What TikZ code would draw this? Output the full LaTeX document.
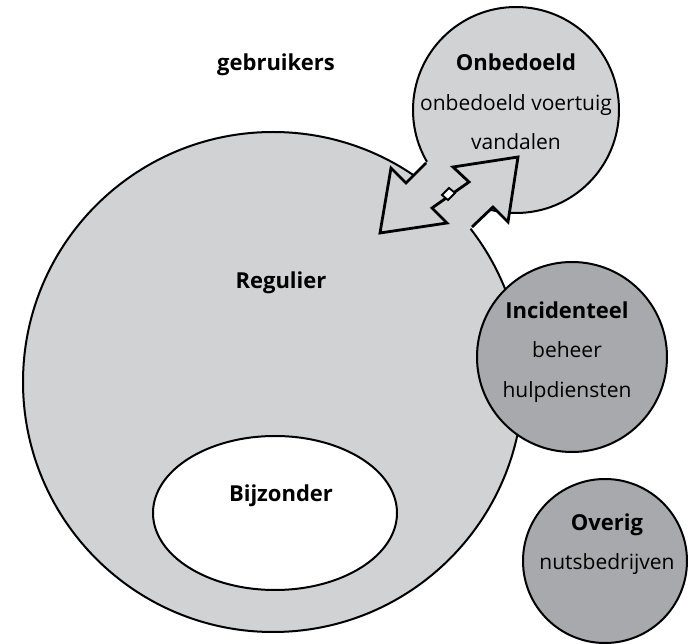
\documentclass[tikz,border=0pt]{standalone}
\usepackage{fontspec}
\setmainfont{Open Sans}
\usepackage{tikz}
\usetikzlibrary{shapes.geometric}
\definecolor{usergrey}{HTML}{D1D2D4}
\definecolor{usergreydark}{HTML}{A7A9AC}
\tikzset{every node/.style={font=\fontsize{21}{39.5}\selectfont},
  group/.style={circle,draw=black,line width=2pt,fill=usergrey,
    inner sep=0pt,outer sep=0pt},
  subgroup/.style={group,fill=usergreydark},
  txt/.style={inner sep=0pt,outer sep=0pt,align=center}}
\newcommand{\fH}{\fontsize{22}{39.5}\selectfont\bfseries}
\newcommand{\fB}{\fontsize{21}{39.5}\selectfont\mdseries}

\begin{document}
\begin{tikzpicture}[x=1pt,y=-1pt,
    special/.style={ellipse,draw=black,line width=2pt,fill=white,inner sep=0pt},
    arrline/.style={draw=black,line width=2.8pt,line join=miter}]
  \path[use as bounding box] (0,0) rectangle (697,644);

  % regular users, with the special ones inside
  \node[group,minimum size=500pt] (regulier) at (273,382) {};
  \node[special,minimum width=244pt,minimum height=154pt] (bijzonder) at (275,513) {};
  \node[txt] (regulierlbl) at (281,283) {\fH Regulier};
  \node[txt] (bijzonderlbl) at (281,496) {\fH Bijzonder};
  \node[txt] (gebruikers) at (276,65) {\fH gebruikers};

  % unintended users
  \node[group,minimum size=206pt] (onbedoeld) at (516,110) {};
  \node[txt] (onbedoeldlbl) at (516,102)
    {\fH Onbedoeld\\\fB onbedoeld voertuig\\\fB vandalen};

  % double block arrow between regulier and onbedoeld
  \coordinate (p1) at (380,233);
  \coordinate (p2) at (391,168);
  \coordinate (p3) at (406,183);
  \coordinate (p4) at (426,163);
  \coordinate (p4x) at (444,145);
  \coordinate (r1) at (447,223);
  \coordinate (r2) at (432,208);
  \coordinate (m) at (469,182);
  \coordinate (u1) at (453,167);
  \coordinate (t) at (518,157);
  \coordinate (u2) at (508,222);
  \coordinate (u3) at (493,207);
  \coordinate (q) at (472,227);
  \coordinate (qx) at (455,244);
  \fill[usergrey] (p1) -- (p2) -- (p3) -- (p4) -- (p4x) -- (m) -- (r2) -- (r1) -- cycle;
  \fill[usergrey] (t) -- (u2) -- (u3) -- (q) -- (qx) -- (r2) -- (m) -- (u1) -- cycle;
  \draw[arrline] (p4) -- (p3) -- (p2) -- (p1) -- (r1) -- (r2) -- (m)
    -- (u1) -- (t) -- (u2) -- (u3) -- (q);
  \draw[line width=1.8pt,fill=white] (442,195) -- (449,188) -- (455,193) -- (448,200) -- cycle;

  % incidental and other users
  \node[subgroup,minimum size=190pt] (incidenteel) at (572,357) {};
  \node[txt] (incidenteellbl) at (567,352)
    {\fH Incidenteel\\\fB beheer\\\fB hulpdiensten};
  \node[subgroup,minimum size=164pt] (overig) at (605,561) {};
  \node[txt] (overiglbl) at (607,544) {\fH Overig\\\fB nutsbedrijven};
\end{tikzpicture}
\end{document}
